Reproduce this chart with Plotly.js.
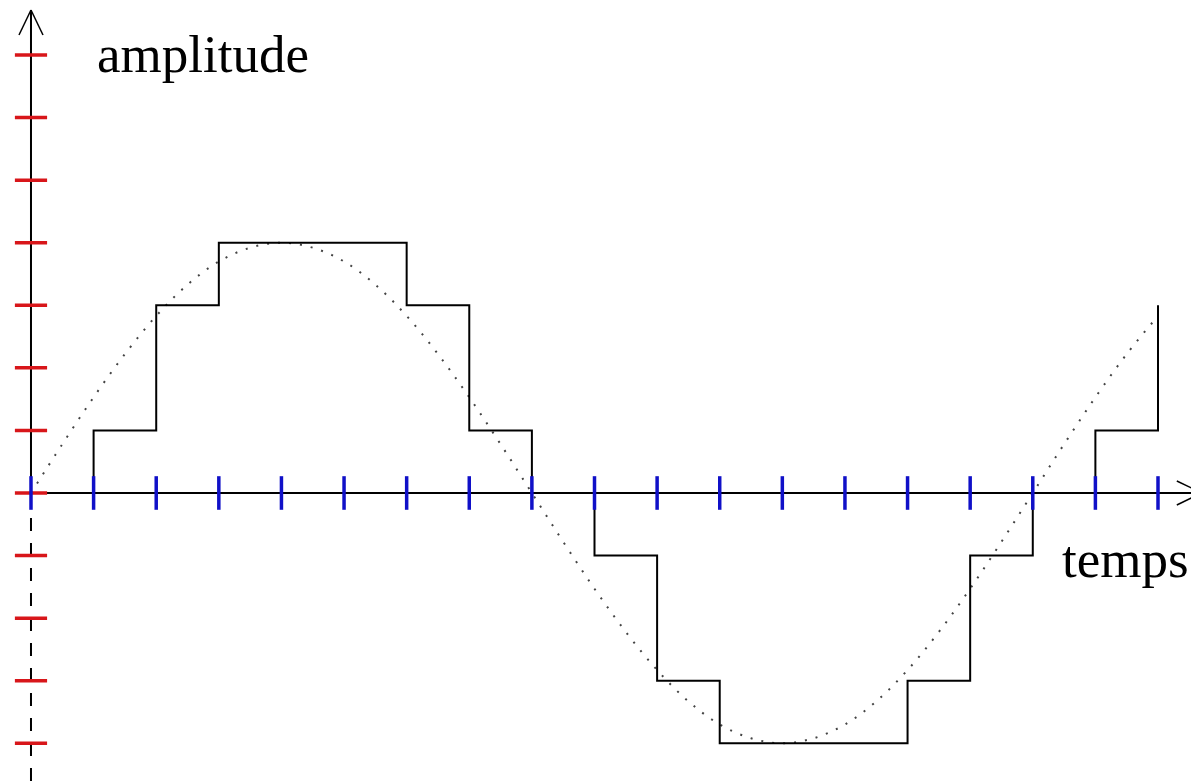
<!DOCTYPE html>
<html>
<head>
<meta charset="utf-8">
<script src="https://cdn.plot.ly/plotly-3.0.1.min.js"></script>
<style>
  html, body { margin: 0; padding: 0; background: #fff; }
  #chart { width: 1191px; height: 782px; }
</style>
</head>
<body>
<div id="chart"></div>
<script>
// sample instants (time axis) and quantized levels held between samples
var sampleTimes = [0,1,2,3,4,5,6,7,8,9,10,11,12,13,14,15,16,17,18];
var heldLevels  = [0,1,3,4,4,4,3,1,0,-1,-3,-4,-4,-4,-3,-1,0,1,3];

// analog signal (dotted curve), every half unit
var signalTimes = [0,0.5,1,1.5,2,2.5,3,3.5,4,4.5,5,5.5,6,6.5,7,7.5,8,8.5,9,9.5,10,10.5,11,11.5,12,12.5,13,13.5,14,14.5,15,15.5,16,16.5,17,17.5,18];
var signalValues = [0,0.78,1.53,2.22,2.83,3.33,3.7,3.92,4,3.92,3.7,3.33,2.83,2.22,1.53,0.78,0,-0.78,-1.53,-2.22,-2.83,-3.33,-3.7,-3.92,-4,-3.92,-3.7,-3.33,-2.83,-2.22,-1.53,-0.78,0,0.78,1.53,2.22,2.83];

// graduation marks
var timeTicks = [0,1,2,3,4,5,6,7,8,9,10,11,12,13,14,15,16,17,18];
var levelTicks = [7,6,5,4,3,2,1,0,-1,-2,-3,-4];

var xMin = -0.495, xMax = 18.527;
var yMin = -4.619, yMax = 7.879;
var yTop = 7.72;   // end of the vertical arrow
var xEnd = 18.7;   // end of the horizontal arrow

var levelMarks = {
  x: levelTicks.map(function () { return 0; }),
  y: levelTicks,
  mode: 'markers',
  marker: { symbol: 'line-ew', size: 23, line: { color: '#d8161a', width: 3.5 } },
  hoverinfo: 'skip'
};

var timeMarks = {
  x: timeTicks,
  y: timeTicks.map(function () { return 0; }),
  mode: 'markers',
  marker: { symbol: 'line-ns', size: 24, line: { color: '#1010c8', width: 3.5 } },
  hoverinfo: 'skip'
};

var signal = {
  x: signalTimes,
  y: signalValues,
  mode: 'lines',
  line: { shape: 'spline', color: '#444', width: 2, dash: '2px,9px' },
  hoverinfo: 'skip'
};

var held = {
  x: sampleTimes,
  y: heldLevels,
  mode: 'lines',
  line: { shape: 'hv', color: '#000', width: 2 },
  hoverinfo: 'skip'
};

function arm(xa, ya, dx, dy) {
  return {
    type: 'line', layer: 'below',
    xref: 'x', yref: 'y', xsizemode: 'pixel', ysizemode: 'pixel',
    xanchor: xa, yanchor: ya,
    x0: 0, y0: 0, x1: dx, y1: dy,
    line: { color: '#000', width: 1.5 }
  };
}

var layout = {
  width: 1191,
  height: 782,
  margin: { l: 0, r: 0, t: 0, b: 0 },
  paper_bgcolor: '#fff',
  plot_bgcolor: '#fff',
  showlegend: false,
  xaxis: { range: [xMin, xMax], visible: false, fixedrange: true },
  yaxis: { range: [yMin, yMax], visible: false, fixedrange: true },
  shapes: [
    { type: 'line', layer: 'below', x0: 0, x1: 0, y0: 0, y1: yTop, line: { color: '#000', width: 2 } },
    { type: 'line', layer: 'below', x0: 0, x1: 0, y0: 0, y1: yMin, line: { color: '#000', width: 2, dash: '13px,12px' } },
    { type: 'line', layer: 'below', x0: 0, x1: xEnd, y0: 0, y1: 0, line: { color: '#000', width: 2 } },
    arm(0, yTop, -12, -25),
    arm(0, yTop, 12, -25),
    arm(xEnd, 0, -25, 12),
    arm(xEnd, 0, -25, -12)
  ],
  annotations: [
    {
      text: 'amplitude', xref: 'x', yref: 'y', x: 1.02, y: 7.02,
      xanchor: 'left', yanchor: 'middle', showarrow: false,
      font: { family: 'Liberation Serif, Times New Roman, serif', size: 53, color: '#000' }
    },
    {
      text: 'temps', xref: 'x', yref: 'y', x: 16.43, y: -1.05,
      xanchor: 'left', yanchor: 'middle', showarrow: false,
      font: { family: 'Liberation Serif, Times New Roman, serif', size: 53, color: '#000' }
    }
  ]
};

Plotly.newPlot('chart', [signal, held, levelMarks, timeMarks], layout, { staticPlot: true, displayModeBar: false });
</script>
</body>
</html>
